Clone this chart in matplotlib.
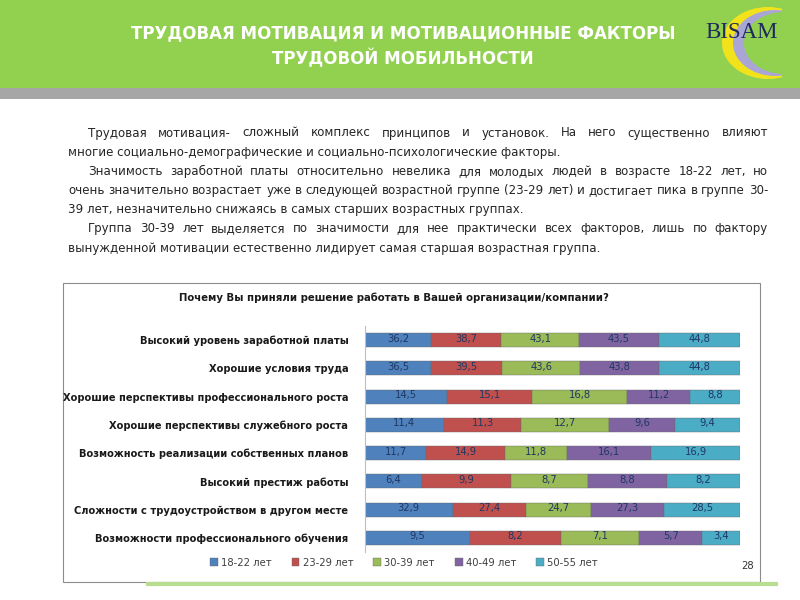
import numpy as np
import matplotlib.pyplot as plt
from matplotlib.patches import Rectangle, Ellipse

# ============================================================
# DATA
# ============================================================
categories = [
    'Высокий уровень заработной платы',
    'Хорошие условия труда',
    'Хорошие перспективы профессионального роста',
    'Хорошие перспективы служебного роста',
    'Возможность реализации собственных планов',
    'Высокий престиж работы',
    'Сложности с трудоустройством в другом месте',
    'Возможности профессионального обучения',
]
age_groups = ['18-22 лет', '23-29 лет', '30-39 лет', '40-49 лет', '50-55 лет']
v_18_22 = [36.2, 36.5, 14.5, 11.4, 11.7, 6.4, 32.9, 9.5]
v_23_29 = [38.7, 39.5, 15.1, 11.3, 14.9, 9.9, 27.4, 8.2]
v_30_39 = [43.1, 43.6, 16.8, 12.7, 11.8, 8.7, 24.7, 7.1]
v_40_49 = [43.5, 43.8, 11.2, 9.6, 16.1, 8.8, 27.3, 5.7]
v_50_55 = [44.8, 44.8, 8.8, 9.4, 16.9, 8.2, 28.5, 3.4]

title = 'ТРУДОВАЯ МОТИВАЦИЯ И МОТИВАЦИОННЫЕ ФАКТОРЫ\nТРУДОВОЙ МОБИЛЬНОСТИ'
chart_title = 'Почему Вы приняли решение работать в Вашей организации/компании?'
# paragraph lines as broken on the slide
para_lines = [
    ['Трудовая мотивация- сложный комплекс принципов и установок. На  него существенно влияют',
     'многие социально-демографические и социально-психологические факторы.'],
    ['Значимость заработной платы относительно невелика для молодых людей в возрасте 18-22 лет, но',
     'очень значительно возрастает уже в следующей возрастной группе (23-29 лет) и достигает пика в группе 30-',
     '39 лет, незначительно снижаясь в самых старших возрастных группах.'],
    ['Группа 30-39 лет выделяется по значимости для нее практически всех факторов, лишь по фактору',
     'вынужденной мотивации естественно лидирует самая старшая возрастная группа.'],
]

colors = ['#4F81BD', '#C0504D', '#9BBB59', '#8064A2', '#4BACC6']
plt.rcParams['font.family'] = ['DejaVu Sans']
plt.rcParams['font.stretch'] = 'condensed'

W, H = 800, 600
fig = plt.figure(figsize=(8, 6), dpi=100)
fig.patch.set_facecolor('white')

# overlay in pixel coordinates
bg = fig.add_axes([0, 0, 1, 1])
bg.set_xlim(0, W)
bg.set_ylim(H, 0)
bg.axis('off')

# header
bg.add_patch(Rectangle((0, 0), W, 88, color='#92D050', lw=0, zorder=0))
bg.add_patch(Rectangle((0, 88), W, 11, color='#A6A6A6', lw=0, zorder=5))
bg.text(403, 46, title, ha='center', va='center', color='white',
        fontsize=13.3, fontweight='bold', linespacing=1.45)

# logo (crescent + name)
bg.add_patch(Ellipse((768, 43), 92, 72, color='#F2E21B', lw=0, zorder=1))
bg.add_patch(Ellipse((775, 43), 84, 66, color='#A9A6D6', lw=0, zorder=2))
bg.add_patch(Ellipse((784, 43), 80, 62, color='#92D050', lw=0, zorder=3))
bg.add_patch(Rectangle((782, 0), 18, 88, color='#92D050', lw=0, zorder=3))
bg.text(742, 33, 'BISAM', ha='center', va='center', fontsize=16.5, color='#1F2A5C',
        family='Liberation Serif', fontstretch='normal', zorder=4)

# justified paragraph text
renderer = fig.canvas.get_renderer()
x_left, x_right, indent = 68, 768, 20
fs = 9.45
y = 133
for lines in para_lines:
    for i, line in enumerate(lines):
        x0 = x_left + (indent if i == 0 else 0)
        if i == len(lines) - 1:
            bg.text(x0, y, line, ha='left', va='center', fontsize=fs, color='#262626')
        else:
            words = line.split()
            texts = [bg.text(0, y, w, ha='left', va='center', fontsize=fs, color='#262626')
                     for w in words]
            widths = [t.get_window_extent(renderer).width for t in texts]
            gap = (x_right - x0 - sum(widths)) / (len(words) - 1)
            x = x0
            for t, w in zip(texts, widths):
                t.set_x(x)
                x += w + gap
        y += 19.2

# chart frame
bg.add_patch(Rectangle((63, 283), 697, 299, fill=False, edgecolor='#8C8C8C', lw=0.8, zorder=1))
bg.plot([148, 776], [584, 584], color='#B7DD8E', lw=3, zorder=1)
bg.text(394, 298, chart_title, ha='center', va='center', fontsize=8.1,
        fontweight='bold', color='#1a1a1a')
bg.text(748, 566, '28', ha='center', va='center', fontsize=8, color='#333333')

# ============================================================
# STACKED 100% BAR CHART
# ============================================================
data = np.array([v_18_22, v_23_29, v_30_39, v_40_49, v_50_55])
shares = data / data.sum(axis=0) * 100

ax = fig.add_axes([365 / W, 1 - 552 / H, 375 / W, 226 / H])
ypos = np.arange(len(categories))
left = np.zeros(len(categories))
for k in range(len(age_groups)):
    ax.barh(ypos, shares[k], left=left, height=0.5, color=colors[k],
            edgecolor='#6a6a6a', linewidth=0.3, label=age_groups[k])
    for yy, l, s, v in zip(ypos, left, shares[k], data[k]):
        ax.text(l + s / 2, yy - 0.05, f'{v:.1f}'.replace('.', ','), ha='center',
                va='center', fontsize=8, color='#1F3864')
    left += shares[k]

ax.set_xlim(0, 100)
ax.set_ylim(len(categories) - 0.5, -0.5)
ax.set_yticks(ypos)
ax.set_yticklabels(categories, fontsize=7.9, fontweight='bold', color='#1a1a1a')
ax.tick_params(axis='y', length=0, pad=12)
ax.set_xticks([])
for side in ['top', 'right', 'bottom']:
    ax.spines[side].set_visible(False)
ax.spines['left'].set_color('#BFBFBF')
ax.set_facecolor('none')

handles, labels = ax.get_legend_handles_labels()
fig.legend(handles, labels, loc='center', bbox_to_anchor=(404 / W, 1 - 563 / H),
           ncol=5, frameon=False, fontsize=8, handlelength=0.7, handleheight=0.7,
           handletextpad=0.3, columnspacing=1.8, labelcolor='#404040')

plt.savefig('out.png', dpi=100)
plt.close()
